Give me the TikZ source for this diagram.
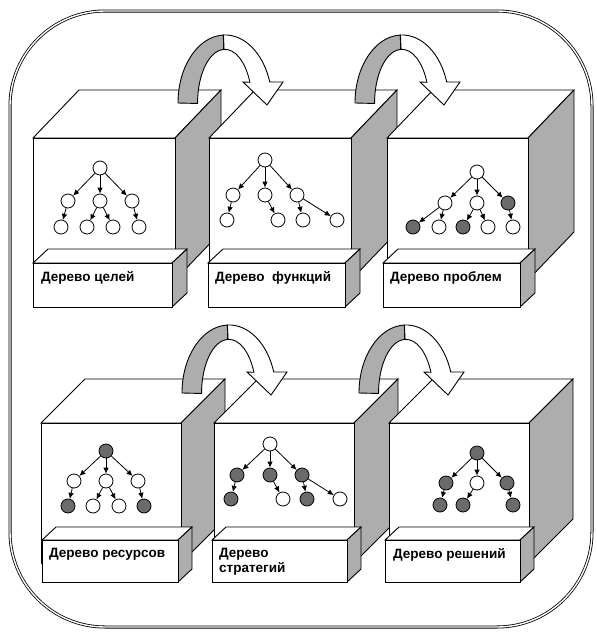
\documentclass[tikz,border=0pt]{standalone}
\usepackage{fontspec}
\setsansfont{Liberation Sans}
\usetikzlibrary{arrows.meta}
\definecolor{sidegray}{gray}{0.68}
\definecolor{nodegray}{gray}{0.42}
\tikzset{
  shape line/.style={draw=black, line width=0.9pt, line join=miter},
  treenode/.style={circle, draw=black, line width=0.8pt, fill=white, minimum size=14pt, inner sep=0pt},
  marked/.style={treenode, fill=nodegray},
  edge/.style={line width=0.8pt, -{Latex[length=6pt,width=5.5pt]}},
  boxtext/.style={font=\sffamily\bfseries\fontsize{13.5}{15}\selectfont, anchor=north west, inner sep=0pt, align=left},
}
% box: front top-left x, y, width, height, depth x, depth y
\newcommand{\boxshape}[6]{%
  \draw[shape line, fill=white] (#1,#2) -- ++(#5,-#6) -- ++(#3,0) -- ++(-#5,#6) -- cycle;
  \draw[shape line, fill=sidegray] ({#1+#3},#2) -- ++(#5,-#6) -- ++(0,#4) -- ++(-#5,#6) -- cycle;
  \draw[shape line, fill=white] (#1,#2) rectangle ++(#3,#4);
}
% bent block arrow, shifted from the first one
\newcommand{\bentarrow}[2]{%
  \begin{scope}[shift={(#1,#2)}]
    \draw[shape line, fill=sidegray] (178,103) arc[start angle=180, end angle=268, x radius=47, y radius=68]
      -- (223.6,49.5) arc[start angle=268, end angle=180, x radius=27, y radius=54] -- cycle;
    \draw[shape line, fill=white] (223.4,35) arc[start angle=268, end angle=342, x radius=47, y radius=68]
      -- (283,82) -- (267,105) -- (243,82) -- (249.9,82.3)
      arc[start angle=337, end angle=268, x radius=27, y radius=54] -- cycle;
  \end{scope}
}

\begin{document}
\begin{tikzpicture}[x=1pt, y=-1pt]
\useasboundingbox (0,0) rectangle (597,632);
\draw[line width=0.8pt, double, double distance=1.4pt, rounded corners=95pt] (10,11) rectangle (592,627);

% upper row
\boxshape{33}{138}{142}{142}{46}{48}
\boxshape{33}{263}{139}{44}{15}{14}
\boxshape{209}{138}{142}{142}{46}{48}
\boxshape{208}{263}{137}{44}{15}{14}
\boxshape{387}{138}{141}{142}{46}{48}
\boxshape{383}{263}{137}{44}{15}{14}

% lower row
\boxshape{41}{423}{140}{140}{44}{44}
\boxshape{42}{540}{136}{42}{14}{13}
\boxshape{214}{423}{140}{140}{44}{44}
\boxshape{212}{540}{135}{42}{14}{13}
\boxshape{389}{423}{140}{140}{44}{44}
\boxshape{385}{540}{135}{42}{14}{13}

\bentarrow{0}{0}
\bentarrow{177}{0}
\bentarrow{4}{290}
\bentarrow{181}{290}

% goals
\node[treenode] (g0) at (100,168) {};
\node[treenode] (g1) at (68,201) {};
\node[treenode] (g2) at (100,201) {};
\node[treenode] (g3) at (132,201) {};
\node[treenode] (g4) at (61,227) {};
\node[treenode] (g5) at (87,227) {};
\node[treenode] (g6) at (113,227) {};
\node[treenode] (g7) at (139,227) {};
\foreach \a/\b in {g0/g1,g0/g2,g0/g3,g1/g4,g2/g5,g2/g6,g3/g7}
  \draw[edge] (\a) -- (\b);

% functions
\node[treenode] (f0) at (265,160) {};
\node[treenode] (f1) at (233,195) {};
\node[treenode] (f2) at (265,195) {};
\node[treenode] (f3) at (297,195) {};
\node[treenode] (f4) at (227,220) {};
\node[treenode] (f5) at (278,220) {};
\node[treenode] (f6) at (303,220) {};
\node[treenode] (f7) at (337,220) {};
\foreach \a/\b in {f0/f1,f0/f2,f0/f3,f1/f4,f2/f5,f3/f6,f3/f7}
  \draw[edge] (\a) -- (\b);

% problems
\node[treenode] (p0) at (477,172) {};
\node[treenode] (p1) at (445,203) {};
\node[treenode] (p2) at (477,203) {};
\node[marked] (p3) at (508,203) {};
\node[marked] (p4) at (413,227) {};
\node[treenode] (p5) at (439,227) {};
\node[marked] (p6) at (463,227) {};
\node[treenode] (p7) at (488,227) {};
\node[treenode] (p8) at (513,227) {};
\foreach \a/\b in {p0/p1,p0/p2,p0/p3,p1/p4,p1/p5,p2/p6,p2/p7,p3/p8}
  \draw[edge] (\a) -- (\b);

% resources
\node[marked] (r0) at (106,451) {};
\node[treenode] (r1) at (74,481) {};
\node[treenode] (r2) at (106,481) {};
\node[treenode] (r3) at (138,481) {};
\node[marked] (r4) at (68,506) {};
\node[treenode] (r5) at (93,506) {};
\node[treenode] (r6) at (119,506) {};
\node[marked] (r7) at (144,506) {};
\foreach \a/\b in {r0/r1,r0/r2,r0/r3,r1/r4,r2/r5,r2/r6,r3/r7}
  \draw[edge] (\a) -- (\b);

% strategies
\node[treenode] (s0) at (270,444) {};
\node[marked] (s1) at (237,475) {};
\node[marked] (s2) at (270,475) {};
\node[marked] (s3) at (302,475) {};
\node[marked] (s4) at (231,499) {};
\node[treenode] (s5) at (283,499) {};
\node[marked] (s6) at (307,499) {};
\node[treenode] (s7) at (340,499) {};
\foreach \a/\b in {s0/s1,s0/s2,s0/s3,s1/s4,s2/s5,s3/s6,s3/s7}
  \draw[edge] (\a) -- (\b);

% decisions
\node[marked] (d0) at (477,453) {};
\node[marked] (d1) at (446,483) {};
\node[treenode] (d2) at (477,483) {};
\node[marked] (d3) at (507,483) {};
\node[marked] (d4) at (440,505) {};
\node[marked] (d5) at (463,505) {};
\node[marked] (d6) at (513,505) {};
\foreach \a/\b in {d0/d1,d0/d2,d0/d3,d1/d4,d2/d5,d3/d6}
  \draw[edge] (\a) -- (\b);

% labels
\node[boxtext] (lab1) at (41,271) {Дерево целей};
\node[boxtext] (lab2) at (215,271) {Дерево\ \ функций};
\node[boxtext] (lab3) at (390,271) {Дерево проблем};
\node[boxtext] (lab4) at (49,548) {Дерево ресурсов};
\node[boxtext] (lab5) at (219,548) {Дерево\\стратегий};
\node[boxtext] (lab6) at (393,548) {Дерево решений};
\end{tikzpicture}
\end{document}
